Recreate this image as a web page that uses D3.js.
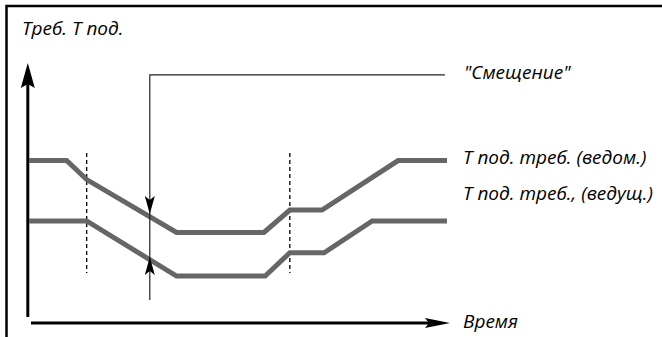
<!DOCTYPE html>
<html lang="ru">

<head>
  <meta charset="UTF-8">
  <title>Смещение T под.</title>
  <script src="https://d3js.org/d3.v7.min.js"></script>
  <style>
    body { margin: 0; background: #fff; }
    text { font-family: "Open Sans", sans-serif; font-style: italic; font-size: 19px; fill: #000; }
  </style>
</head>

<body>
  <div id="chart"></div>

  <script>
    // данные: время (0..100) и требуемая T подачи (0..100), в условных единицах
    const slaveTime = [0, 9.0, 13.8, 35.3, 56.2, 62.4, 70.1, 88.3, 100];
    const slaveTemp = [61.6, 61.6, 54.1, 33.3, 33.3, 42.1, 42.1, 61.6, 61.6];
    const masterTime = [0, 13.8, 35.3, 56.5, 62.4, 70.6, 82.1, 100];
    const masterTemp = [37.8, 37.8, 16.1, 16.1, 25.3, 25.3, 37.8, 37.8];
    const seriesLabels = ["T под. треб. (ведом.)", "T под. треб., (ведущ.)"];

    // пунктирные метки времени
    const markerTime = [13.8, 62.4];
    const markerRange = [17.3, 64.6];

    // "Смещение": время, верх / низ линии, конец полки, острия стрелок
    const offsetTime = 28.9;
    const offsetTop = 95.3;
    const offsetBottom = 6.7;
    const offsetEnd = 99.5;
    const offsetTips = [40.6, 23.6];

    const width = 662, height = 337;

    const svg = d3.select("#chart")
      .append("svg")
      .attr("width", width)
      .attr("height", height);

    const x = d3.scaleLinear().domain([0, 100]).range([29, 447]);
    const y = d3.scaleLinear().domain([0, 100]).range([317, 63]);

    // рамка (верх и левый край)
    svg.append("path")
      .attr("d", "M6.5,337 V6 H662")
      .attr("fill", "none")
      .attr("stroke", "#000")
      .attr("stroke-width", 2.5);

    // оси со стрелками
    const axisX0 = 31, axisXEnd = 450, axisY = 323;
    const axisYx = 27.8, axisYtop = 63, axisYbottom = 317;

    svg.append("line")
      .attr("x1", axisYx).attr("x2", axisYx)
      .attr("y1", axisYbottom).attr("y2", axisYtop + 20)
      .attr("stroke", "#000").attr("stroke-width", 3);
    svg.append("path")
      .attr("d", "M0,0 L7,25 L0,21 L-7,25 Z")
      .attr("transform", `translate(${axisYx},${axisYtop})`)
      .attr("fill", "#000");

    svg.append("line")
      .attr("x1", axisX0).attr("x2", axisXEnd - 20)
      .attr("y1", axisY).attr("y2", axisY)
      .attr("stroke", "#000").attr("stroke-width", 3);
    svg.append("path")
      .attr("d", "M0,0 L-25,5 L-21,0 L-25,-5 Z")
      .attr("transform", `translate(${axisXEnd},${axisY})`)
      .attr("fill", "#000");

    // пунктирные вертикали
    svg.selectAll("line.marker")
      .data(markerTime)
      .enter()
      .append("line")
      .attr("class", "marker")
      .attr("x1", d => x(d)).attr("x2", d => x(d))
      .attr("y1", y(markerRange[1])).attr("y2", y(markerRange[0]))
      .attr("stroke", "#000")
      .attr("stroke-width", 1.3)
      .attr("stroke-dasharray", "4,3");

    // линии T подачи
    const line = d3.line()
      .x(d => x(d[0]))
      .y(d => y(d[1]));

    const series = [
      d3.zip(slaveTime, slaveTemp),
      d3.zip(masterTime, masterTemp)
    ];

    svg.selectAll("path.series")
      .data(series)
      .enter()
      .append("path")
      .attr("class", "series")
      .attr("d", line)
      .attr("fill", "none")
      .attr("stroke", "#666")
      .attr("stroke-width", 5)
      .attr("stroke-linejoin", "miter");

    // линия "Смещение"
    svg.append("path")
      .attr("d", `M${x(offsetTime)},${y(offsetBottom)} V${y(offsetTop)} H${x(offsetEnd)}`)
      .attr("fill", "none")
      .attr("stroke", "#222")
      .attr("stroke-width", 1.2);

    // стрелки смещения: вниз к верхней линии, вверх к нижней
    svg.append("path")
      .attr("d", "M0,0 L-5,-18 L0,-14 L5,-18 Z")
      .attr("transform", `translate(${x(offsetTime)},${y(offsetTips[0])})`)
      .attr("fill", "#000");
    svg.append("path")
      .attr("d", "M0,0 L-5,18 L0,14 L5,18 Z")
      .attr("transform", `translate(${x(offsetTime)},${y(offsetTips[1])})`)
      .attr("fill", "#000");

    // подписи
    svg.append("text").attr("x", 22).attr("y", 35).text("Треб. T под.");
    svg.append("text").attr("x", 464).attr("y", 79).text("\"Смещение\"");
    svg.append("text").attr("x", 463).attr("y", 164).text(seriesLabels[0]);
    svg.append("text").attr("x", 463).attr("y", 200).text(seriesLabels[1]);
    svg.append("text").attr("x", 463).attr("y", 328).text("Время");
  </script>
</body>

</html>
